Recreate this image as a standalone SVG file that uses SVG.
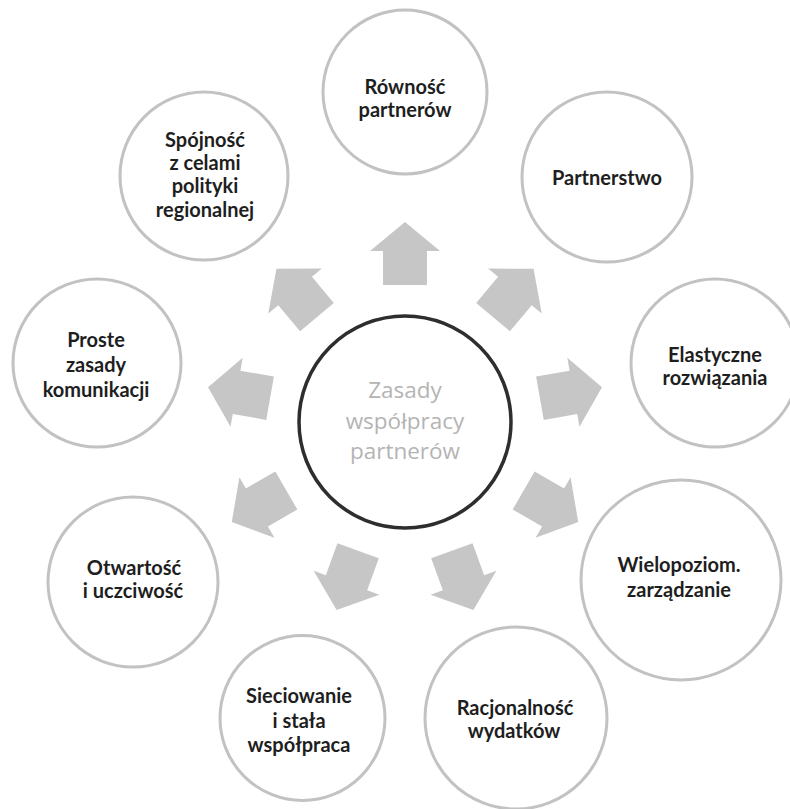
<svg xmlns="http://www.w3.org/2000/svg" width="790" height="809" viewBox="0 0 790 809">
<style>
.node circle{fill:#fff;stroke:#c2c2c2;stroke-width:3}
.node text{font-family:Lato,"Liberation Sans",sans-serif;font-weight:700;font-size:20px;fill:#1e1e1e;text-anchor:middle}
#center circle{fill:#fff;stroke:#2e2e2e;stroke-width:3.5}
#center text{font-family:"Open Sans","Liberation Sans",sans-serif;font-size:22.5px;fill:#b4b4b4;text-anchor:middle}
.arr{fill:#c6c6c6}
</style>
<defs>
<path id="arrow" d="M0,-22 H34 V-35 L63,0 L34,35 V22 H0 Z"/>
</defs>
<rect width="790" height="809" fill="#fff"/>
<g id="connectors" class="arr">
<use href="#arrow" transform="translate(405,422) rotate(-90) translate(137,0)"/>
<use href="#arrow" transform="translate(405,422) rotate(-50) translate(137,0)"/>
<use href="#arrow" transform="translate(405,422) rotate(-10) translate(137,0)"/>
<use href="#arrow" transform="translate(405,422) rotate(30) translate(137,0)"/>
<use href="#arrow" transform="translate(405,422) rotate(70) translate(137,0)"/>
<use href="#arrow" transform="translate(405,422) rotate(110) translate(137,0)"/>
<use href="#arrow" transform="translate(405,422) rotate(150) translate(137,0)"/>
<use href="#arrow" transform="translate(405,422) rotate(190) translate(137,0)"/>
<use href="#arrow" transform="translate(405,422) rotate(230) translate(137,0)"/>
</g>
<g id="center">
<circle cx="405" cy="422" r="106"/>
<text x="405" y="398">Zasady</text>
<text x="405" y="428.5">współpracy</text>
<text x="405" y="459">partnerów</text>
</g>
<g id="n-rownosc" class="node">
<circle cx="405" cy="92" r="82"/>
<text x="405" y="94">Równość</text>
<text x="405" y="116.5">partnerów</text>
</g>
<g id="n-partnerstwo" class="node">
<circle cx="607" cy="177" r="85"/>
<text x="607" y="185">Partnerstwo</text>
</g>
<g id="n-elastyczne" class="node">
<circle cx="715" cy="363" r="84"/>
<text x="715" y="362">Elastyczne</text>
<text x="715" y="385">rozwiązania</text>
</g>
<g id="n-wielopoziom" class="node">
<circle cx="681" cy="580" r="100"/>
<text x="679" y="572">Wielopoziom.</text>
<text x="679" y="597">zarządzanie</text>
</g>
<g id="n-racjonalnosc" class="node">
<circle cx="516" cy="718" r="91"/>
<text x="515" y="715">Racjonalność</text>
<text x="514" y="738">wydatków</text>
</g>
<g id="n-sieciowanie" class="node">
<circle cx="302.5" cy="718" r="82.5"/>
<text x="299" y="703">Sieciowanie</text>
<text x="299" y="728">i stała</text>
<text x="299" y="752">współpraca</text>
</g>
<g id="n-otwartosc" class="node">
<circle cx="133" cy="582" r="85"/>
<text x="134" y="575">Otwartość</text>
<text x="133" y="598">i uczciwość</text>
</g>
<g id="n-proste" class="node">
<circle cx="97" cy="363" r="84"/>
<text x="96" y="347">Proste</text>
<text x="96" y="372">zasady</text>
<text x="96" y="397">komunikacji</text>
</g>
<g id="n-spojnosc" class="node">
<circle cx="204" cy="176" r="84"/>
<text x="205" y="147">Spójność</text>
<text x="205" y="170">z celami</text>
<text x="205" y="193">polityki</text>
<text x="205" y="217">regionalnej</text>
</g>
</svg>
